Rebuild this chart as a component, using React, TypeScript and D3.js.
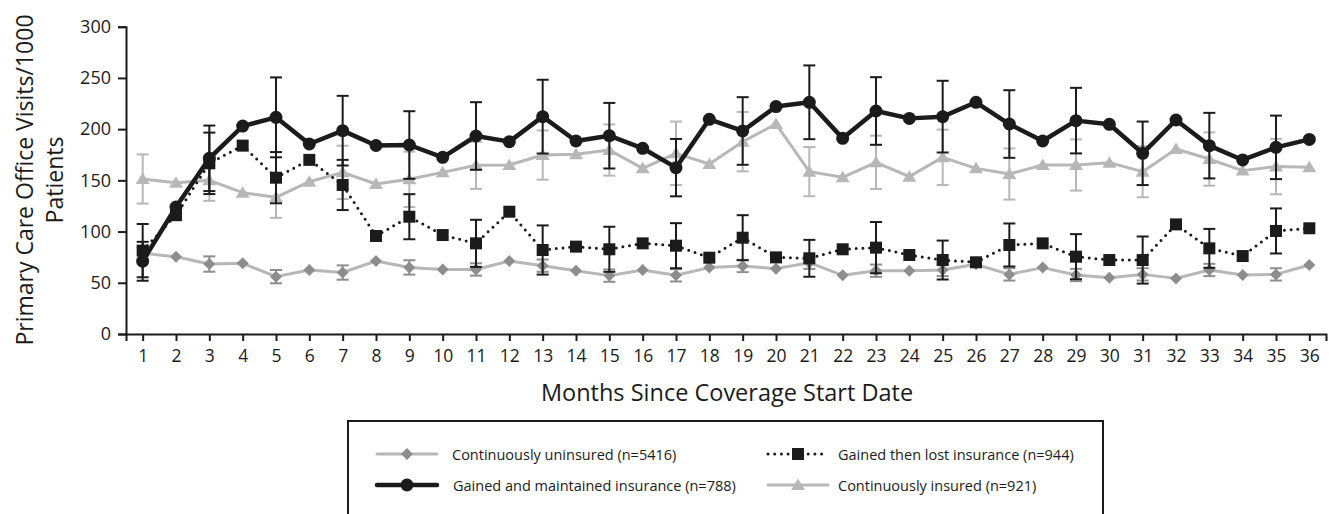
import { useEffect, useRef } from 'react'
import * as d3 from 'd3'

const months = d3.range(1, 37)
const yTicks = [0, 50, 100, 150, 200, 250, 300]

// visits / 1000 patients
const uninsured = [78.8, 75.5, 68.3, 69, 56, 62.5, 60, 71.3, 65, 63, 63, 71.3, 66.7, 61.8, 57, 62.5, 57.3, 64.8,
  66.4, 63.8, 69.6, 57.3, 61.8, 61.8, 62.5, 68, 58.2, 64.8, 57.6, 55, 58.2, 54.3, 62.5, 57.6, 58.2, 67.4]
const uninsuredErr = [6, null, 7.5, null, 6.5, null, 7, null, 7, null, 6, null, 6, null, 6, null, 6, null,
  6, null, 6, null, 6, null, 6, null, 6, null, 6, null, 6, null, 6, null, 6, null]

const maintained = [71, 124, 171.5, 203, 211.5, 185.5, 198.5, 184, 184.5, 172.5, 193.3, 187.8, 212.2, 188.4, 193.6, 181.3, 162.4, 209.6,
  198.2, 222, 226.2, 191, 217.7, 210.5, 212.2, 226.2, 205, 188.4, 208.3, 204.7, 176.4, 208.9, 183.9, 169.9, 182.2, 190]
const maintainedErr = [19, null, 32, null, 39, null, 34, null, 33, null, 33, null, 36, null, 32, null, 28, null,
  33, null, 36, null, 33, null, 35, null, 33, null, 32, null, 31, null, 32, null, 31, null]

const gainedLost = [81.4, 116, 166.6, 183.9, 152.6, 170, 145.5, 95.7, 114.5, 96.6, 88.5, 119.4, 82, 85.3, 82.7, 88.5, 86.2, 74.5,
  94, 74.8, 73.9, 82.7, 84.3, 77.1, 72.2, 70, 86.9, 88.5, 75.5, 72.2, 72.2, 107, 83.6, 76.1, 100.6, 103.2]
const gainedLostErr = [26, null, 30, null, 25, null, 24.5, null, 22, null, 23, null, 24, null, 22, null, 22, null,
  22, null, 18, null, 25, null, 19, null, 21, null, 22, null, 23, null, 19, null, 22, null]

const insured = [151.3, 147.7, 150, 138, 133.4, 148.7, 157.8, 146.4, 151, 157.8, 164.7, 165, 174.7, 175.4, 179.6, 161.7, 176.4, 166,
  187.8, 205, 158.5, 153, 167.6, 153.6, 172.5, 161.7, 156.2, 165, 165, 167.3, 158.5, 180.6, 170.8, 159.5, 163.4, 162.7]
const insuredErr = [24, null, 20, null, 20, null, 26, null, 27, null, 23, null, 24, null, 25, null, 31, null,
  29, null, 24, null, 26, null, 27, null, 25, null, 25, null, 25, null, 26, null, 27, null]

const BLACK = '#1b1b1b'
const LIGHT = '#b7b7b7'
const MID = '#8d8d8d'
const FONT = '"Open Sans", sans-serif'

const series = [
  { key: 'uninsured', label: 'Continuously uninsured (n=5416)', values: uninsured, err: uninsuredErr,
    line: LIGHT, width: 3, dash: null, marker: 'diamond', fill: MID, errColor: MID },
  { key: 'insured', label: 'Continuously insured (n=921)', values: insured, err: insuredErr,
    line: LIGHT, width: 3, dash: null, marker: 'triangle', fill: LIGHT, errColor: LIGHT },
  { key: 'lost', label: 'Gained then lost insurance (n=944)', values: gainedLost, err: gainedLostErr,
    line: BLACK, width: 3, dash: '0 6.7', marker: 'square', fill: BLACK, errColor: BLACK },
  { key: 'maintained', label: 'Gained and maintained insurance (n=788)', values: maintained, err: maintainedErr,
    line: BLACK, width: 4.5, dash: null, marker: 'circle', fill: BLACK, errColor: BLACK },
]

const symbolPath = {
  diamond: 'M0,-6L6,0L0,6L-6,0Z',
  triangle: 'M0,-6.5L7,5L-7,5Z',
  square: 'M-6,-6H6V6H-6Z',
  circle: d3.symbol(d3.symbolCircle, Math.PI * 6.5 * 6.5)(),
}

export default function App() {
  const svgRef = useRef(null)

  useEffect(() => {
    document.body.style.margin = '0'
    const W = 1330, H = 514
    const svg = d3.select(svgRef.current).attr('width', W).attr('height', H)
    svg.selectAll('*').remove()

    const x = d3.scaleLinear().domain([0.5, 36.5]).range([126, 1326])
    const y = d3.scaleLinear().domain([0, 300]).range([334, 26.7])

    // axes
    const yAxis = svg.append('g').attr('transform', `translate(${x(0.5)},0)`)
      .call(d3.axisLeft(y).tickValues(yTicks).tickSize(8).tickPadding(7))
    const xAxis = svg.append('g').attr('transform', `translate(0,${y(0)})`)
      .call(d3.axisBottom(x).tickValues(months).tickSize(7).tickPadding(9))
    for (const ax of [yAxis, xAxis]) {
      ax.select('.domain').attr('stroke', BLACK).attr('stroke-width', 2)
      ax.selectAll('.tick line').attr('stroke', BLACK).attr('stroke-width', 2)
      ax.selectAll('.tick text').attr('fill', BLACK).attr('font-family', FONT)
    }
    yAxis.selectAll('.tick text').attr('font-size', 18)
    xAxis.selectAll('.tick text').attr('font-size', 17.5)

    // axis titles
    svg.append('text')
      .attr('transform', 'translate(24,180) rotate(-90)')
      .attr('text-anchor', 'middle').attr('dominant-baseline', 'central')
      .attr('font-family', FONT).attr('font-size', 23).attr('fill', BLACK)
      .text('Primary Care Office Visits/1000')
    svg.append('text')
      .attr('transform', 'translate(54,180) rotate(-90)')
      .attr('text-anchor', 'middle').attr('dominant-baseline', 'central')
      .attr('font-family', FONT).attr('font-size', 23).attr('fill', BLACK)
      .text('Patients')
    svg.append('text')
      .attr('x', 727).attr('y', 392)
      .attr('text-anchor', 'middle').attr('dominant-baseline', 'central')
      .attr('font-family', FONT).attr('font-size', 23.5).attr('fill', BLACK)
      .text('Months Since Coverage Start Date')

    const line = d3.line().x((d, i) => x(months[i])).y(d => y(d))

    for (const s of series) {
      const g = svg.append('g')
      const bars = s.err.map((e, i) => ({ m: months[i], v: s.values[i], e })).filter(d => d.e != null)
      const eb = g.selectAll('g.eb').data(bars).join('g').attr('stroke', s.errColor).attr('stroke-width', 2)
      eb.append('line').attr('x1', d => x(d.m)).attr('x2', d => x(d.m))
        .attr('y1', d => y(d.v - d.e)).attr('y2', d => y(d.v + d.e))
      eb.append('line').attr('x1', d => x(d.m) - 6).attr('x2', d => x(d.m) + 6)
        .attr('y1', d => y(d.v + d.e)).attr('y2', d => y(d.v + d.e))
      eb.append('line').attr('x1', d => x(d.m) - 6).attr('x2', d => x(d.m) + 6)
        .attr('y1', d => y(d.v - d.e)).attr('y2', d => y(d.v - d.e))

      g.append('path').attr('d', line(s.values)).attr('fill', 'none')
        .attr('stroke', s.line).attr('stroke-width', s.width)
        .attr('stroke-linecap', 'round').attr('stroke-linejoin', 'round')
        .attr('stroke-dasharray', s.dash)

      g.selectAll('path.m').data(s.values).join('path').attr('class', 'm')
        .attr('transform', (d, i) => `translate(${x(months[i])},${y(d)})`)
        .attr('d', symbolPath[s.marker]).attr('fill', s.fill)
    }

    // legend
    const lg = svg.append('g')
    lg.append('rect').attr('x', 348).attr('y', 421).attr('width', 755).attr('height', 130)
      .attr('fill', 'none').attr('stroke', BLACK).attr('stroke-width', 2)
    const items = [
      { s: series[0], x: 377, y: 454, tx: 452 },
      { s: series[2], x: 768, y: 454, tx: 838 },
      { s: series[3], x: 377, y: 485, tx: 453 },
      { s: series[1], x: 768, y: 485, tx: 838 },
    ]
    for (const it of items) {
      const s = it.s
      lg.append('line').attr('x1', it.x).attr('x2', it.x + 60).attr('y1', it.y).attr('y2', it.y)
        .attr('stroke', s.line).attr('stroke-width', s.width)
        .attr('stroke-linecap', 'round').attr('stroke-dasharray', s.dash)
      lg.append('path').attr('transform', `translate(${it.x + 30},${it.y})`)
        .attr('d', symbolPath[s.marker]).attr('fill', s.fill)
      lg.append('text').attr('x', it.tx).attr('y', it.y)
        .attr('dominant-baseline', 'central')
        .attr('font-family', FONT).attr('font-size', 14.5).attr('fill', BLACK)
        .text(s.label)
    }
  }, [])

  return <svg ref={svgRef} style={{ display: 'block' }} />
}
